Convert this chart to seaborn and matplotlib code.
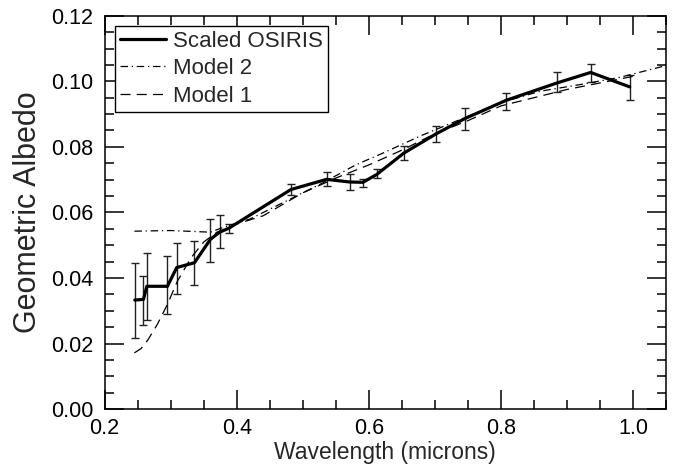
import numpy as np
import pandas as pd
import matplotlib
matplotlib.use("Agg")
import matplotlib.pyplot as plt
import seaborn as sns
from matplotlib.ticker import MultipleLocator

# ---- data ----
osiris_wl = [0.2456, 0.2587, 0.2638, 0.295, 0.309, 0.336, 0.360, 0.374, 0.388,
             0.482, 0.536, 0.571, 0.591, 0.612, 0.653, 0.702, 0.745, 0.808,
             0.885, 0.936, 0.995]
osiris_alb = [0.0333, 0.0335, 0.0375, 0.0375, 0.0432, 0.0447, 0.0518, 0.0540, 0.0552,
              0.0670, 0.0701, 0.0693, 0.0692, 0.0716, 0.0781, 0.0840, 0.0886, 0.0942,
              0.0995, 0.1027, 0.0983]
osiris_lo = [0.0217, 0.0256, 0.0272, 0.0289, 0.0350, 0.0378, 0.0450, 0.0491, 0.0538,
             0.0652, 0.0682, 0.0670, 0.0679, 0.0705, 0.0760, 0.0816, 0.0853, 0.0914,
             0.0967, 0.0997, 0.0942]
osiris_hi = [0.0445, 0.0406, 0.0478, 0.0466, 0.0508, 0.0514, 0.0579, 0.0591, 0.0564,
             0.0688, 0.0722, 0.0717, 0.0703, 0.0734, 0.0802, 0.0863, 0.0918, 0.0965,
             0.1027, 0.1054, 0.1020]

model2_wl = [0.245, 0.30, 0.36, 0.38, 0.42, 0.48, 0.53, 0.58, 0.62, 0.68, 0.74,
             0.80, 0.86, 0.92, 0.98, 1.05]
model2_alb = [0.0543, 0.0545, 0.0540, 0.0555, 0.0580, 0.0640, 0.0690, 0.0745, 0.0780,
              0.0835, 0.0885, 0.0935, 0.0970, 0.0990, 0.1012, 0.1048]

model1_wl = [0.245, 0.255, 0.265, 0.28, 0.295, 0.31, 0.33, 0.35, 0.37, 0.40, 0.44,
             0.47, 0.50, 0.55, 0.60, 0.65, 0.70, 0.75, 0.80, 0.85, 0.90, 0.95, 1.00]
model1_alb = [0.0172, 0.0185, 0.0210, 0.0260, 0.0320, 0.0390, 0.0460, 0.0510, 0.0540,
              0.0565, 0.0590, 0.0625, 0.0660, 0.0705, 0.0745, 0.0790, 0.0840, 0.0880,
              0.0925, 0.0950, 0.0975, 0.0995, 0.1015]

x_ticks = [0.2, 0.4, 0.6, 0.8, 1.0]
y_ticks = [0.00, 0.02, 0.04, 0.06, 0.08, 0.10, 0.12]

# ---- style ----
sns.set_style("ticks")
plt.rcParams['font.family'] = ['Liberation Sans', 'DejaVu Sans']

fig = plt.figure(figsize=(6.78, 4.66), dpi=100)
ax = fig.add_axes([0.1544, 0.1217, 0.8279, 0.8446])

df_os = pd.DataFrame({"wl": osiris_wl, "alb": osiris_alb})
df_m2 = pd.DataFrame({"wl": model2_wl, "alb": model2_alb})
df_m1 = pd.DataFrame({"wl": model1_wl, "alb": model1_alb})

osiris_alb_arr = np.array(osiris_alb)
yerr = [osiris_alb_arr - np.array(osiris_lo), np.array(osiris_hi) - osiris_alb_arr]
ax.errorbar(osiris_wl, osiris_alb, yerr=yerr, fmt='none', ecolor='#222222',
            elinewidth=1.0, capsize=2.8, capthick=1.0, zorder=2)

sns.lineplot(data=df_os, x="wl", y="alb", ax=ax, color='black', lw=2.3,
             label="Scaled OSIRIS", sort=False, zorder=4)
sns.lineplot(data=df_m2, x="wl", y="alb", ax=ax, color='black', lw=0.9,
             label="Model 2", sort=False, zorder=3)
sns.lineplot(data=df_m1, x="wl", y="alb", ax=ax, color='black', lw=0.9,
             label="Model 1", sort=False, zorder=3)
ax.lines[-2].set_dashes([6, 3, 1, 3])
ax.lines[-1].set_dashes([8, 5])

ax.set_xlim(0.2, 1.05)
ax.set_ylim(0.0, 0.12)
ax.set_xticks(x_ticks)
ax.set_xticklabels([f"{v:.1f}" for v in x_ticks])
ax.set_yticks(y_ticks)
ax.set_yticklabels([f"{v:.2f}" for v in y_ticks])
ax.xaxis.set_minor_locator(MultipleLocator(0.05))
ax.yaxis.set_minor_locator(MultipleLocator(0.005))

ax.tick_params(which='both', direction='in', top=True, right=True, width=1.1,
               labelsize=15.5, colors='black')
ax.tick_params(which='major', length=13.5)
ax.tick_params(axis='y', which='major', pad=8)
ax.tick_params(axis='x', which='major', pad=6)
ax.tick_params(which='minor', length=6.5)
for s in ax.spines.values():
    s.set_linewidth(1.1)
    s.set_color('black')

ax.set_xlabel("Wavelength (microns)", fontsize=16.5, labelpad=2)
ax.set_ylabel("Geometric Albedo", fontsize=22, labelpad=6)

leg = ax.legend(loc='upper left', fontsize=16, frameon=True, fancybox=False,
                edgecolor='black', borderpad=0.22, labelspacing=0.3,
                handlelength=2.1, handletextpad=0.3, borderaxespad=0.45,
                framealpha=1)
leg.get_frame().set_linewidth(1.0)

fig.savefig("out.png", dpi=100)
